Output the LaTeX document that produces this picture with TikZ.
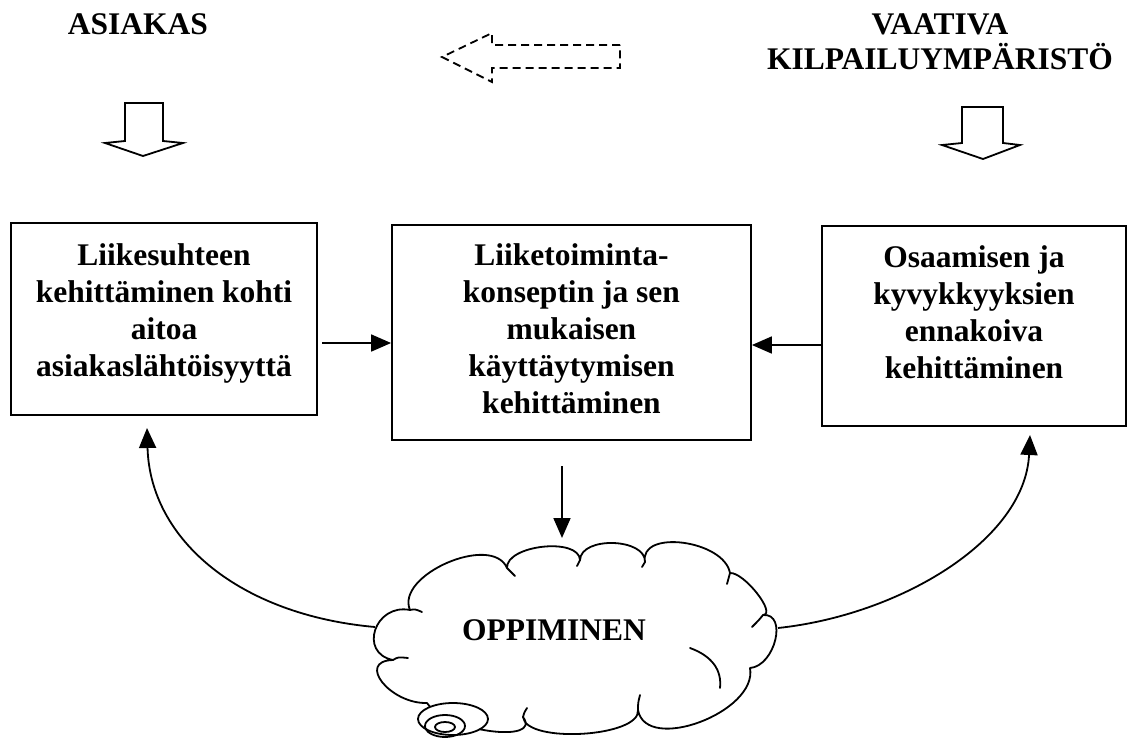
\documentclass[tikz,border=0pt]{standalone}
\usepackage{fontspec}
\setmainfont{Liberation Serif}
\usetikzlibrary{arrows.meta}
\begin{document}
\begin{tikzpicture}[x=1pt,y=-1pt,
  box/.style={draw, line width=1.8pt, inner sep=0pt},
  txt/.style={font=\bfseries\fontsize{31.5}{37}\selectfont, align=center, inner sep=0pt},
  arr/.style={line width=1.8pt, -{Triangle[length=20pt,width=17pt]}},
  hollow/.style={draw, line width=1.8pt, line join=miter, fill=white},
  cloudline/.style={line width=1.8pt, line cap=round, line join=round}]
\useasboundingbox (0,0) rectangle (1128,737);

% headings
\node[txt, anchor=base] (asiakas) at (138,34) {ASIAKAS};
\node[txt, anchor=north, font=\bfseries\fontsize{31.5}{35}\selectfont] (ymparisto) at (940,14) {VAATIVA\\KILPAILUYMPÄRISTÖ};

% dashed hollow arrow pointing left
\draw[line width=1.8pt, dash pattern=on 8pt off 5pt, line join=miter]
  (620,45) -- (492,45) -- (492,33) -- (442,57) -- (492,82) -- (492,68) -- (620,68) -- cycle;

% hollow arrows pointing down
\draw[hollow] (125,141) -- (125,103) -- (163,103) -- (163,141) -- (183,143) -- (143,156) -- (105,143) -- cycle;
\draw[hollow] (962,143) -- (962,107) -- (1003,107) -- (1003,143) -- (1020,145) -- (983,159) -- (942,145) -- cycle;

% the three boxes
\node[box, minimum width=306pt, minimum height=192pt] (L) at (164,319) {};
\node[box, minimum width=359pt, minimum height=215pt] (M) at (571.5,332.5) {};
\node[box, minimum width=304pt, minimum height=200pt] (R) at (974,326) {};

\node[txt, anchor=north] (Ltxt) at (164,243) {Liikesuhteen\\kehittäminen kohti\\aitoa\\asiakaslähtöisyyttä};
\node[txt, anchor=north] (Mtxt) at (571.5,243) {Liiketoiminta-\\konseptin ja sen\\mukaisen\\käyttäytymisen\\kehittäminen};
\node[txt, anchor=north] (Rtxt) at (974,245) {Osaamisen ja\\kyvykkyyksien\\ennakoiva\\kehittäminen};

% connectors between the boxes
\coordinate (lm) at (322,343);
\coordinate (rm) at (822,345);
\draw[arr] (lm) -- (M.west |- lm);
\draw[arr] (R.west |- rm) -- (M.east |- rm);

% cloud
\draw[cloudline, fill=white]
  (427,703) .. controls (390,704) and (356,661) .. (393,660)
            .. controls (358,653) and (375,603) .. (410,610)
            .. controls (395,575) and (492,533) .. (507,568)
            .. controls (506,545) and (579,537) .. (580,560)
            .. controls (581,536) and (646,538) .. (645,562)
            .. controls (639,529) and (724,540) .. (730,573)
            .. controls (744,572) and (777,614) .. (763,615)
            .. controls (788,613) and (775,666) .. (750,668)
            .. controls (758,712) and (646,754) .. (638,710)
            .. controls (641,737) and (526,744) .. (523,717)
            .. controls (543,744) and (447,732) .. (427,703) -- cycle;
% small inner hooks of the cloud bumps
\draw[cloudline] (393,660) .. controls (398,657) .. (408,658);
\draw[cloudline] (410,610) .. controls (415,609) .. (422,612);
\draw[cloudline] (507,568) .. controls (510,571) .. (515,576);
\draw[cloudline] (580,560) .. controls (579,563) .. (577,566);
\draw[cloudline] (645,562) .. controls (644,564) .. (642,567);
\draw[cloudline] (730,573) .. controls (729,578) .. (727,584);
\draw[cloudline] (763,615) .. controls (759,620) .. (752,627);
\draw[cloudline] (690,648) .. controls (712,656) and (722,670) .. (720,688);
\draw[cloudline] (638,710) .. controls (638,703) .. (640,695);
\draw[cloudline] (523,717) .. controls (524,713) .. (527,708);
% scroll at the lower left of the cloud
\draw[cloudline, fill=white] (453,719) ellipse [x radius=35, y radius=16];
\draw[cloudline] (445,726) ellipse [x radius=20, y radius=11];
\draw[cloudline] (445,727) ellipse [x radius=10, y radius=5];

\node[txt, anchor=base] (opp) at (554,640) {OPPIMINEN};

% arrows to and from the cloud
\coordinate (mtop) at (562,466);
\coordinate (cloudtop) at (562,538);
\draw[arr] (mtop) -- (cloudtop);

\coordinate (cleft) at (375,627);
\coordinate (lbot) at (147,428);
\draw[arr] (cleft) .. controls (240,615) and (150,540) .. (lbot);

\coordinate (cright) at (778,628);
\coordinate (rbot) at (1030,435);
\draw[arr] (cright) .. controls (900,615) and (1025,540) .. (rbot);
\end{tikzpicture}
\end{document}
